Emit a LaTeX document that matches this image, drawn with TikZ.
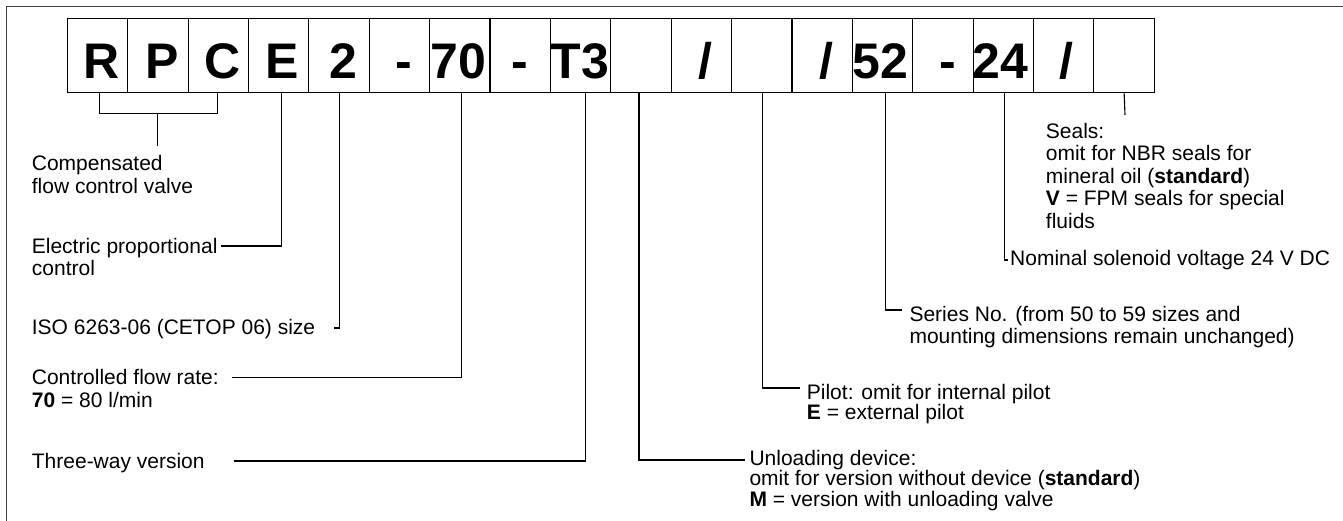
\documentclass[tikz,border=0pt]{standalone}
\usepackage{fontspec}
\setmainfont{Liberation Sans}
\newcommand\myslash{/}
\begin{document}
\begin{tikzpicture}[x=1pt,y=-1pt,
  cell/.style={draw=black, line width=1.1pt, minimum width=60.39pt, minimum height=74pt, inner sep=0pt},
  big/.style={font=\fontsize{50}{50}\selectfont\bfseries, inner sep=0pt, anchor=base},
  lab/.style={font=\fontsize{21}{22.5}\selectfont, align=left, inner sep=0pt, anchor=base west},
  labtight/.style={font=\fontsize{21}{20.3}\selectfont, align=left, inner sep=0pt, anchor=base west},
  conn/.style={draw=black, line width=1.1pt},
  frame/.style={draw=black!75, line width=1.5pt}]
\useasboundingbox (0,0) rectangle (1343,521);
\clip (0,0) rectangle (1343,521);
\draw[frame] (6.7,530) -- (6.7,6.7) -- (1360,6.7);
% boxes
\foreach \i in {1,...,18}
  \node[cell] (b\i) at ({67.3+60.39*(\i-0.5)},55.7) {};
% box texts
\foreach \i/\t/\s in {1/R/4,2/P/4,3/C/4,4/E/4,5/2/4,6/-/4,7/70/-1.5,8/-/0,9/T3/-0.5,11/\myslash/4.5,13/\myslash/4.5,14/52/-2,15/-/5,16/24/-3,17/\myslash/2.5}
  \node[big] (t\i) at ({67.3+60.39*(\i-0.5)+\s},78.2) {\t};
% labels (anchor = baseline of the last line)
\node[lab] (comp) at (31.7,193.5) {Compensated\\flow control valve};
\node[lab] (elec) at (31.7,275.8) {Electric proportional\\control};
\node[lab] (iso) at (31.7,334.3) {ISO 6263-06 (CETOP 06) size};
\node[lab] (ctrl) at (31.7,407.1) {Controlled flow rate:\\\textbf{70} = 80 l/min};
\node[lab] (three) at (31.7,468) {Three-way version};
\node[lab] (seals) at (1045.7,228.3) {Seals:\\omit for NBR seals for\\mineral oil (\textbf{standard})\\\textbf{V} = FPM seals for special\\fluids};
\node[lab] (nom) at (1010,265.7) {Nominal solenoid voltage 24 V DC};
\node[lab] (series) at (909.3,343.8) {Series No. (from 50 to 59 sizes and\\mounting dimensions remain unchanged)};
\node[labtight] (pilot) at (806.7,419.8) {Pilot: omit for internal pilot\\\textbf{E} = external pilot};
\node[labtight] (unl) at (749.3,506) {Unloading device:\\omit for version without device (\textbf{standard})\\\textbf{M} = version with unloading valve};
% connector ends
\coordinate (brk) at (157.3,113.3);
\coordinate (brkend) at (157.3,145.7);
\coordinate (cE) at (221,246);
\coordinate (c2) at (334,328);
\coordinate (c70) at (232,377.3);
\coordinate (cT3) at (234,461);
\coordinate (cUnl) at (745,460);
\coordinate (cPil) at (800,388);
\coordinate (c52) at (902,310);
\coordinate (c24) at (1008,260);
\coordinate (cSeal) at (1125,115);
% connectors
\draw[conn] ([xshift=1.8pt]b1.south) |- (brk) -| ([xshift=-0.7pt]b3.south);
\draw[conn] (brk) -- (brkend);
\draw[conn] ([xshift=3.1pt]b4.south) |- (cE);
\draw[conn] (b5.south) |- (c2);
\draw[conn] ([xshift=2pt]b7.south) |- (c70);
\draw[conn] ([xshift=4.8pt]b9.south) |- (cT3);
\draw[conn] ([xshift=-2pt]b10.south) |- (cUnl);
\draw[conn] ([xshift=0.5pt]b12.south) |- (cPil);
\draw[conn] ([xshift=2.7pt]b14.south) |- (c52);
\draw[conn] ([xshift=0.8pt]b16.south) |- (c24);
\draw[conn] (b18.south) -- (cSeal);
\end{tikzpicture}
\end{document}
